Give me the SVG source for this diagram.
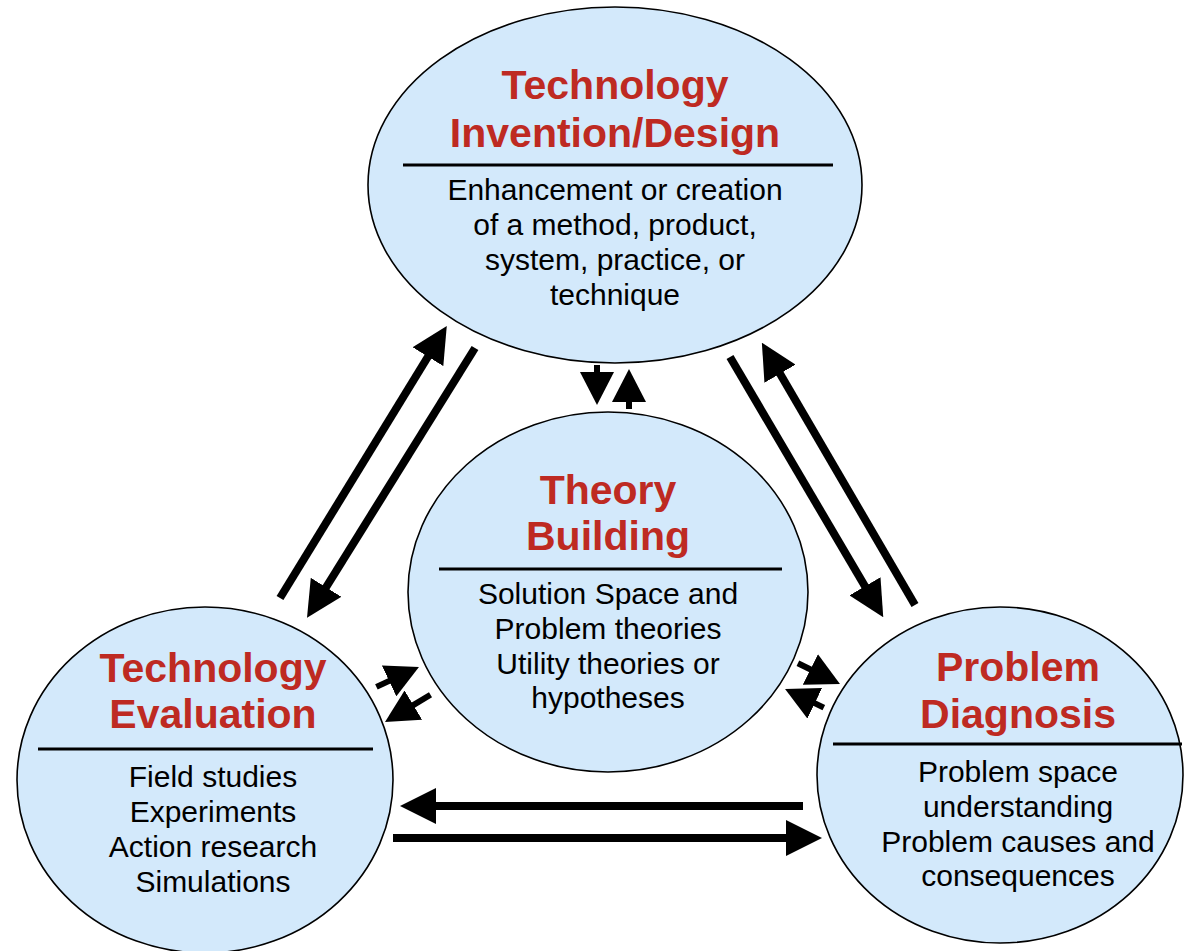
<svg xmlns="http://www.w3.org/2000/svg" width="1186" height="951" viewBox="0 0 1186 951">
  <style>
    .node ellipse { fill: #d3e9fb; stroke: #000; stroke-width: 1.6; }
    .sep { stroke: #000; stroke-width: 3; }
    .title { font-family: "Liberation Sans", Arial, sans-serif; font-weight: bold; font-size: 41px; fill: #be2a22; text-anchor: middle; }
    .body { font-family: "Liberation Sans", Arial, sans-serif; font-size: 30px; fill: #000; text-anchor: middle; }
    .big { stroke: #000; stroke-width: 8; fill: none; marker-end: url(#bigHead); }
    .small { stroke: #000; stroke-width: 6; fill: none; marker-end: url(#smallHead); }
  </style>
  <defs>
    <marker id="bigHead" markerUnits="userSpaceOnUse" viewBox="0 0 36 36" markerWidth="36" markerHeight="36" refX="2" refY="18" orient="auto">
      <path d="M0,0 L36,18 L0,36 z" fill="#000"/>
    </marker>
    <marker id="smallHead" markerUnits="userSpaceOnUse" viewBox="0 0 33 34" markerWidth="33" markerHeight="34" refX="2" refY="17" orient="auto">
      <path d="M0,0 L33,17 L0,34 z" fill="#000"/>
    </marker>
  </defs>
  <rect width="1186" height="951" fill="#fff"/>

  <g id="node-tid" class="node">
    <ellipse cx="615" cy="185" rx="247" ry="178"/>
    <text class="title" x="615" y="99">Technology</text>
    <text class="title" x="615" y="147">Invention/Design</text>
    <line class="sep" x1="403" y1="165" x2="833" y2="165"/>
    <text class="body" x="615" y="200">Enhancement or creation</text>
    <text class="body" x="615" y="235">of a method, product,</text>
    <text class="body" x="615" y="270">system, practice, or</text>
    <text class="body" x="615" y="305">technique</text>
  </g>

  <g id="node-tb" class="node">
    <ellipse cx="608" cy="592" rx="200" ry="180"/>
    <text class="title" x="608" y="504">Theory</text>
    <text class="title" x="608" y="550">Building</text>
    <line class="sep" x1="439" y1="569" x2="782" y2="569"/>
    <text class="body" x="608" y="604">Solution Space and</text>
    <text class="body" x="608" y="639">Problem theories</text>
    <text class="body" x="608" y="674">Utility theories or</text>
    <text class="body" x="608" y="708">hypotheses</text>
  </g>

  <g id="node-te" class="node">
    <ellipse cx="205" cy="780" rx="188" ry="173"/>
    <text class="title" x="213" y="682">Technology</text>
    <text class="title" x="213" y="728">Evaluation</text>
    <line class="sep" x1="38" y1="749" x2="373" y2="749"/>
    <text class="body" x="213" y="787">Field studies</text>
    <text class="body" x="213" y="822">Experiments</text>
    <text class="body" x="213" y="857">Action research</text>
    <text class="body" x="213" y="892">Simulations</text>
  </g>

  <g id="node-pd" class="node">
    <ellipse cx="1000" cy="775" rx="183" ry="168"/>
    <text class="title" x="1018" y="681">Problem</text>
    <text class="title" x="1018" y="728">Diagnosis</text>
    <line class="sep" x1="833" y1="744" x2="1182" y2="744"/>
    <text class="body" x="1018" y="782">Problem space</text>
    <text class="body" x="1018" y="817">understanding</text>
    <text class="body" x="1018" y="852">Problem causes and</text>
    <text class="body" x="1018" y="886">consequences</text>
  </g>

  <g id="connectors">
    <line class="big" x1="280" y1="598" x2="429" y2="355"/>
    <line class="big" x1="475" y1="348" x2="325" y2="589"/>
    <line class="big" x1="730" y1="357" x2="866" y2="588"/>
    <line class="big" x1="915" y1="605" x2="779" y2="372"/>
    <line class="big" x1="803" y1="806" x2="434" y2="806"/>
    <line class="big" x1="393" y1="838" x2="788" y2="838"/>
    <line class="small" x1="597" y1="365" x2="597" y2="374"/>
    <line class="small" x1="629" y1="409" x2="629" y2="400"/>
    <line class="small" x1="376.4" y1="686.9" x2="390.9" y2="680.1"/>
    <line class="small" x1="430.5" y1="694.8" x2="411.6" y2="706.1"/>
    <line class="small" x1="797.9" y1="663.2" x2="812.2" y2="670.3"/>
    <line class="small" x1="823.8" y1="707.6" x2="813" y2="702.4"/>
  </g>
</svg>
